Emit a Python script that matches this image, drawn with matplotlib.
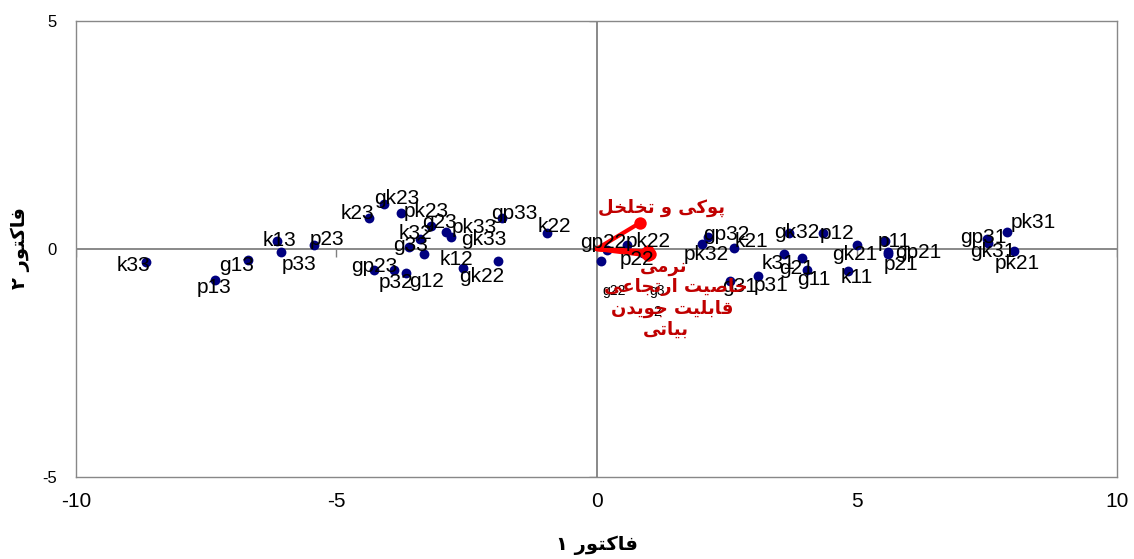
import matplotlib
matplotlib.use("Agg")
import matplotlib.pyplot as plt

# sample scores on factor 1 / factor 2
names = ['k33', 'g13', 'p13', 'k13', 'p33', 'p23', 'k23', 'gk23', 'pk23', 'g23',
         'pk33', 'gk33', 'k32', 'g33', '', 'gp23', 'p32', 'g12', 'k12', 'gk22',
         'gp33', 'k22', 'gp22', 'pk22', 'g22', 'p22', 'g32', 'pk32', 'gp32', 'k21',
         'gk32', 'p12', 'k31', 'g21', 'g11', 'k11', 'g31', 'p31', 'gk21', 'p11',
         'gp21', 'p21', 'gp31', 'gk31', 'pk31', 'pk21']
f1 = [-8.65, -6.69, -7.33, -6.14, -6.06, -5.43, -4.37, -4.08, -3.76, -3.18,
      -2.89, -2.80, -3.39, -3.60, -3.31, -4.27, -3.89, -3.66, -2.56, -1.90,
      -1.82, -0.96, 0.21, 0.58, 0.08, 0.90, 1.00, 2.02, 2.14, 2.64,
      3.70, 4.36, 3.61, 3.94, 4.04, 4.83, 2.56, 3.10, 5.00, 5.54,
      5.60, 5.60, 7.50, 7.53, 7.88, 8.03]
f2 = [-0.28, -0.25, -0.67, 0.17, -0.07, 0.08, 0.68, 0.98, 0.79, 0.50,
      0.38, 0.26, 0.22, 0.05, -0.12, -0.47, -0.47, -0.53, -0.42, -0.27,
      0.67, 0.35, -0.03, 0.09, -0.27, -0.08, -0.12, 0.11, 0.26, 0.02,
      0.35, 0.34, -0.11, -0.19, -0.45, -0.49, -0.70, -0.60, 0.09, 0.17,
      -0.06, -0.12, 0.23, 0.13, 0.37, -0.05]

# trait loadings (vectors)
traits = ['پوکی و تخلخل', 'نرمی', 'خاصیت ارتجاعی', 'قابلیت جویدن', 'بیاتی']
load1 = [0.83, 0.98, 1.02, 0.99, 0.95]
load2 = [0.57, -0.05, -0.10, -0.14, -0.08]

xticks = [-10, -5, 0, 5, 10]
yticks = [-5, 0, 5]
xlabel = 'فاکتور ۱'
ylabel = 'فاکتور ۲'

# label offsets in pixels (dx, dy up)
label_off = {
    'k33': (-13, -4), 'g13': (-12, -5), 'p13': (-1, -8), 'k13': (3, 1),
    'p33': (18, -12), 'p23': (13, 6), 'k23': (-12, 4), 'gk23': (13, 6),
    'pk23': (25, 1), 'g23': (9, 4), 'pk33': (28, 4), 'gk33': (33, -2),
    'k32': (-5, 5), 'g33': (1, 1), 'gp23': (0, 4), 'p32': (2, -12),
    'g12': (21, -8), 'k12': (-7, 9), 'gk22': (-16, -15), 'gp33': (13, 5),
    'k22': (8, 7), 'gp22': (-4, 8), 'pk22': (21, 3), 'p22': (-6, -7),
    'pk32': (5, -11), 'gp32': (18, 3), 'k21': (18, 7), 'gk32': (8, 1),
    'p12': (14, 0), 'k31': (-6, -9), 'g21': (-5, -11), 'g11': (7, -10),
    'k11': (9, -6), 'g31': (10, -6), 'p31': (13, -9), 'gk21': (-2, -10),
    'p11': (9, 0), 'gp21': (30, -1), 'p21': (13, -10), 'gp31': (-4, 1),
    'gk31': (4, -8), 'pk31': (27, 10), 'pk21': (3, -12),
}
small_off = {'g22': (13, -30), 'g32': (9, -47)}
trait_pos = [(662, 208), (664, 267), (676, 287), (672, 309), (666, 330)]

# simple shaping for Persian text (presentation forms, visual order)
FORMS = {
    'ا': ('\uFE8D', '\uFE8E'), 'د': ('\uFEA9', '\uFEAA'),
    'ر': ('\uFEAD', '\uFEAE'), 'و': ('\uFEED', '\uFEEE'),
    'ب': ('\uFE8F', '\uFE90', '\uFE91', '\uFE92'),
    'پ': ('\uFB56', '\uFB57', '\uFB58', '\uFB59'),
    'ت': ('\uFE95', '\uFE96', '\uFE97', '\uFE98'),
    'ج': ('\uFE9D', '\uFE9E', '\uFE9F', '\uFEA0'),
    'خ': ('\uFEA5', '\uFEA6', '\uFEA7', '\uFEA8'),
    'ص': ('\uFEB9', '\uFEBA', '\uFEBB', '\uFEBC'),
    'ع': ('\uFEC9', '\uFECA', '\uFECB', '\uFECC'),
    'ف': ('\uFED1', '\uFED2', '\uFED3', '\uFED4'),
    'ق': ('\uFED5', '\uFED6', '\uFED7', '\uFED8'),
    'ک': ('\uFB8E', '\uFB8F', '\uFB90', '\uFB91'),
    'ل': ('\uFEDD', '\uFEDE', '\uFEDF', '\uFEE0'),
    'م': ('\uFEE1', '\uFEE2', '\uFEE3', '\uFEE4'),
    'ن': ('\uFEE5', '\uFEE6', '\uFEE7', '\uFEE8'),
    'ی': ('\uFBFC', '\uFBFD', '\uFBFE', '\uFBFF'),
}


def shape(text):
    out = []
    for i, ch in enumerate(text):
        if ch not in FORMS:
            out.append(ch)
            continue
        prev = text[i - 1] if i > 0 else ''
        nxt = text[i + 1] if i + 1 < len(text) else ''
        join_prev = prev in FORMS and len(FORMS[prev]) == 4
        join_next = len(FORMS[ch]) == 4 and nxt in FORMS
        f = FORMS[ch]
        if join_prev and join_next:
            out.append(f[3])
        elif join_prev:
            out.append(f[1])
        elif join_next:
            out.append(f[2])
        else:
            out.append(f[0])
    return ''.join(out)[::-1]


W, H = 1134, 559
fig = plt.figure(figsize=(W / 100, H / 100), dpi=100)
ax = fig.add_axes([76 / W, (H - 477) / H, (1117 - 76) / W, (477 - 21) / H])
ax.set_xlim(-10, 10)
ax.set_ylim(-5, 5)

for s in ax.spines.values():
    s.set_color('#888888')
    s.set_linewidth(1)

ax.set_xticks(xticks)
ax.set_yticks(yticks)
ax.set_xticklabels([str(t) for t in xticks], fontsize=15, family='Liberation Sans')
ax.set_yticklabels([str(t) for t in yticks], fontsize=12, family='Liberation Sans')
ax.tick_params(axis='x', length=0, pad=11)
ax.tick_params(axis='y', length=0, pad=14)

# axes through the origin with small tick marks
ax.axhline(0, color='#808080', lw=1.3, zorder=1)
ax.axvline(0, color='#808080', lw=1.3, zorder=1)
ax.plot(xticks, [0] * len(xticks), ls='none', marker=3, ms=6, mew=1,
        color='#808080', zorder=1)
ax.plot([0] * len(yticks), yticks, ls='none', marker=0, ms=6, mew=1,
        color='#808080', zorder=1)

# points
ax.scatter(f1, f2, s=50, color='#000080', zorder=3, linewidths=0)

# vectors
for x, y in zip(load1, load2):
    ax.plot([0, x], [0, y], color='#ff0000', lw=3, solid_capstyle='round', zorder=4)
ax.scatter(load1, load2, s=80, color='#ff0000', zorder=4, linewidths=0)

for n, x, y in zip(names, f1, f2):
    if n in label_off:
        ax.annotate(n, (x, y), xytext=label_off[n], textcoords='offset pixels',
                    ha='center', va='center', fontsize=15,
                    family='Liberation Sans', color='black', zorder=5)
    elif n in small_off:
        txt = 'g3\n2' if n == 'g32' else n
        ax.annotate(txt, (x, y), xytext=small_off[n], textcoords='offset pixels',
                    ha='center', va='center', fontsize=10, linespacing=1.6,
                    family='Liberation Sans', color='black', zorder=5)

for t, (px, py) in zip(traits, trait_pos):
    fig.text(px / W, 1 - py / H, shape(t), ha='center', va='center',
             fontsize=13, fontweight='bold', color='#c00000',
             family='DejaVu Sans', zorder=6)

fig.text(597 / W, 1 - 545 / H, shape(xlabel), ha='center', va='center',
         fontsize=14, fontweight='bold', family='DejaVu Sans')
fig.text(20 / W, 1 - 248 / H, shape(ylabel), ha='center', va='center',
         fontsize=14, fontweight='bold', family='DejaVu Sans', rotation=90)

fig.savefig('out.png', dpi=100)
